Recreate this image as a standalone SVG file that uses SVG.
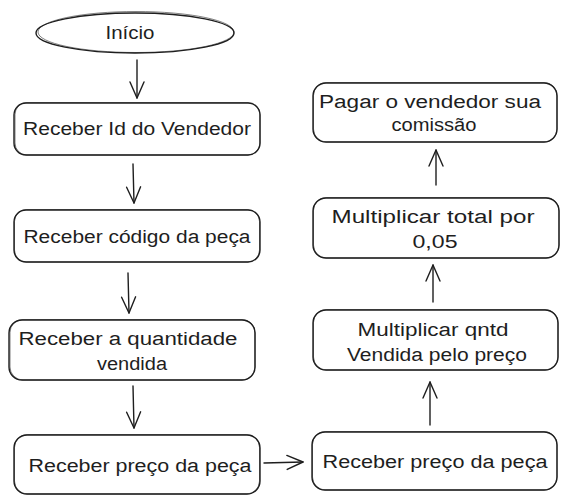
<svg xmlns="http://www.w3.org/2000/svg" width="568" height="504" viewBox="0 0 568 504">
<defs>
<marker id="ah" viewBox="0 0 20 20" refX="18" refY="10" markerWidth="20" markerHeight="20" markerUnits="userSpaceOnUse" orient="auto">
<path d="M2 3 L18 10 L2 17" fill="none" stroke="#1e1e1e" stroke-width="1.4" stroke-linecap="round" stroke-linejoin="round"/>
</marker>
<style>
.b{fill:#ffffff;stroke:#1e1e1e;stroke-width:1.4}
.b2{fill:none;stroke:#1e1e1e;stroke-width:0.8;opacity:0.7}
.t{font-family:"Liberation Sans",Arial,sans-serif;font-size:18px;fill:#1e1e1e;text-anchor:middle;dominant-baseline:central}
.c{fill:none;stroke:#1e1e1e;stroke-width:1.4;stroke-linecap:round;marker-end:url(#ah)}
</style>
</defs>
<rect width="568" height="504" fill="#ffffff"/>
<g id="connectors">
<path class="c" d="M137 60 L137 98"/>
<path class="c" d="M133 164 L134 203"/>
<path class="c" d="M128 273 L129 313"/>
<path class="c" d="M133 386 L134 428"/>
<path class="c" d="M264 463 L303 462"/>
<path class="c" d="M430 425 L430 382"/>
<path class="c" d="M433 302 L433 265"/>
<path class="c" d="M436 185 L436 150"/>
</g>
<g id="n-inicio">
<ellipse class="b" cx="135" cy="33" rx="99" ry="20"/>
<ellipse class="b2" cx="136" cy="32" rx="98" ry="20.5"/>
<text class="t" x="130" y="33" textLength="49" lengthAdjust="spacingAndGlyphs">Início</text>
</g>
<g id="n-id">
<rect class="b" x="14" y="103" width="246" height="52" rx="12"/>
<rect class="b2" x="15" y="102.5" width="245" height="52.5" rx="12"/>
<text class="t" x="137" y="129" textLength="228" lengthAdjust="spacingAndGlyphs">Receber Id do Vendedor</text>
</g>
<g id="n-codigo">
<rect class="b" x="14" y="210" width="246" height="52" rx="12"/>
<rect class="b2" x="14.5" y="209.5" width="245" height="52.5" rx="12"/>
<text class="t" x="137" y="237" textLength="227" lengthAdjust="spacingAndGlyphs">Receber código da peça</text>
</g>
<g id="n-qtd">
<rect class="b" x="9" y="320" width="246" height="60" rx="13"/>
<rect class="b2" x="10" y="319.5" width="245" height="60.5" rx="13"/>
<text class="t" x="128" y="339" textLength="219" lengthAdjust="spacingAndGlyphs">Receber a quantidade</text>
<text class="t" x="132" y="364" textLength="70" lengthAdjust="spacingAndGlyphs">vendida</text>
</g>
<g id="n-preco1">
<rect class="b" x="14" y="435" width="246" height="59" rx="13"/>
<rect class="b2" x="14.5" y="434.5" width="245" height="59.5" rx="13"/>
<text class="t" x="140" y="466" textLength="223" lengthAdjust="spacingAndGlyphs">Receber preço da peça</text>
</g>
<g id="n-preco2">
<rect class="b" x="312" y="432" width="245" height="58" rx="13"/>
<rect class="b2" x="312.5" y="431.5" width="244.5" height="58.5" rx="13"/>
<text class="t" x="435" y="462" textLength="225" lengthAdjust="spacingAndGlyphs">Receber preço da peça</text>
</g>
<g id="n-mult1">
<rect class="b" x="313" y="310" width="245" height="60" rx="13"/>
<rect class="b2" x="313.5" y="309.5" width="244.5" height="60.5" rx="13"/>
<text class="t" x="433" y="330" textLength="151" lengthAdjust="spacingAndGlyphs">Multiplicar qntd</text>
<text class="t" x="437" y="355" textLength="180" lengthAdjust="spacingAndGlyphs">Vendida pelo preço</text>
</g>
<g id="n-mult2">
<rect class="b" x="313" y="198" width="246" height="60" rx="13"/>
<rect class="b2" x="313.5" y="197.5" width="245.5" height="60.5" rx="13"/>
<text class="t" x="433" y="217" textLength="203" lengthAdjust="spacingAndGlyphs">Multiplicar total por</text>
<text class="t" x="435" y="242" textLength="45" lengthAdjust="spacingAndGlyphs">0,05</text>
</g>
<g id="n-pagar">
<rect class="b" x="313" y="83" width="244" height="59" rx="13"/>
<rect class="b2" x="313.5" y="82.5" width="243.5" height="59.5" rx="13"/>
<text class="t" x="430" y="102" textLength="222" lengthAdjust="spacingAndGlyphs">Pagar o vendedor sua</text>
<text class="t" x="434" y="125" textLength="85" lengthAdjust="spacingAndGlyphs">comissão</text>
</g>
</svg>
